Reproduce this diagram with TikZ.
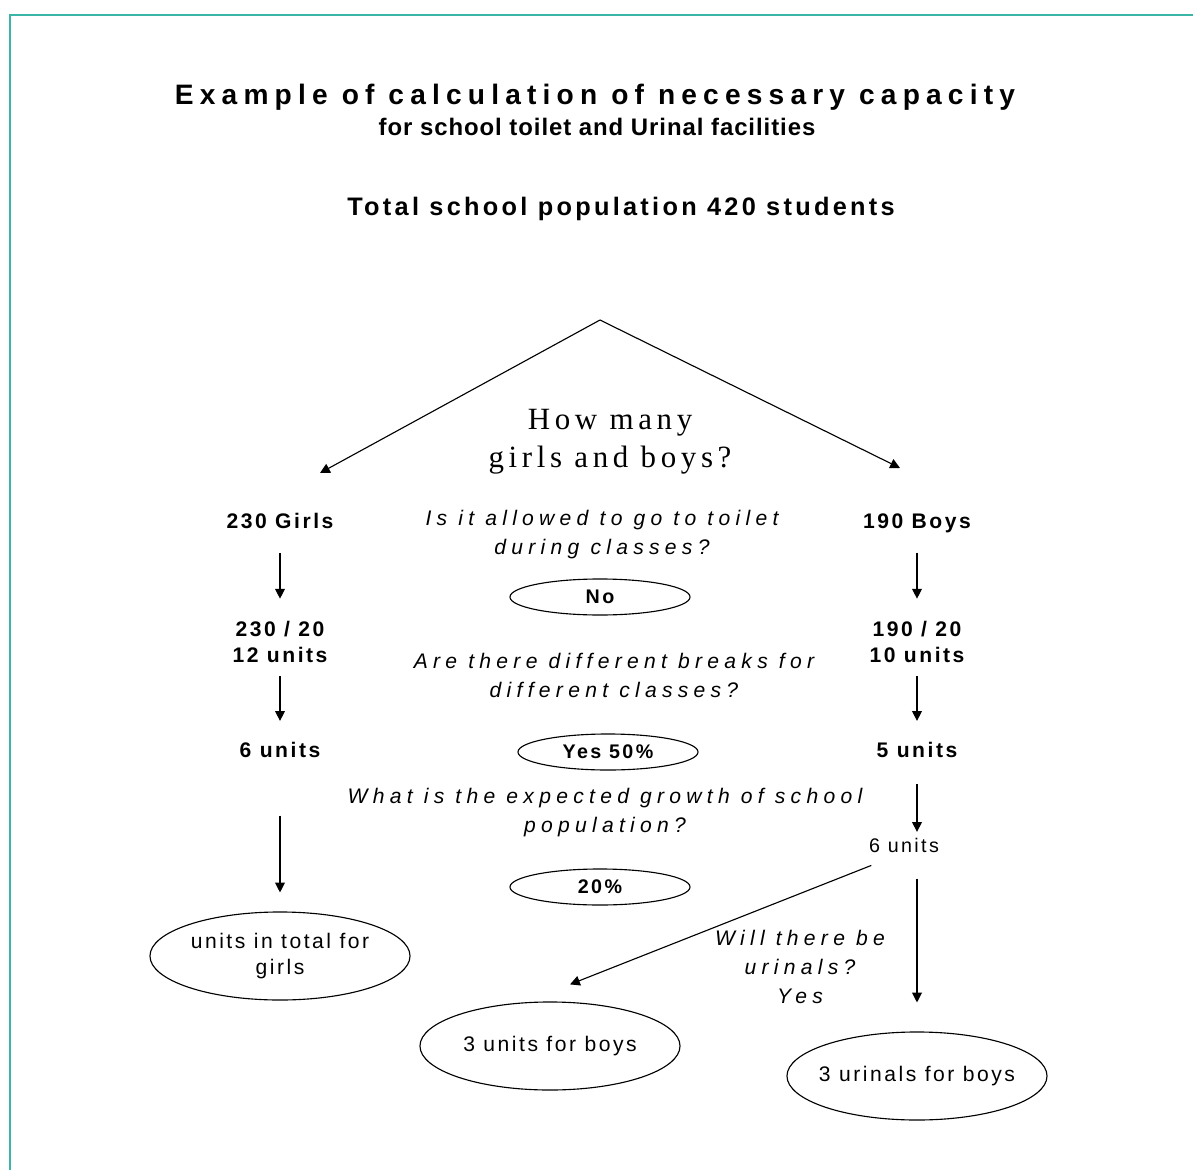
\documentclass[tikz,border=0pt]{standalone}
\usepackage{fontspec}
\setmainfont{Liberation Sans}
\newfontfamily\spaced[LetterSpace=12]{Liberation Sans}
\newfontfamily\widesp[LetterSpace=25]{Liberation Sans}
\newfontfamily\titlefont[LetterSpace=22]{Liberation Sans}
\newfontfamily\totalfont[LetterSpace=13]{Liberation Sans}
\newfontfamily\subfont[LetterSpace=4]{Liberation Sans}
\newfontfamily\serifsp[LetterSpace=15]{Liberation Serif}
\usetikzlibrary{arrows.meta,shapes.geometric}
\definecolor{frameteal}{RGB}{58,181,166}
\tikzset{
  lbl/.style={font=\spaced\bfseries\fontsize{15}{19}\selectfont, align=center, inner sep=0pt},
  plain/.style={font=\spaced\fontsize{14}{19}\selectfont, align=center, inner sep=0pt},
  ques/.style={font=\widesp\itshape\fontsize{15}{20.6}\selectfont, align=center, inner sep=0pt},
  oval/.style={draw, ellipse, line width=0.8pt, minimum width=4.5cm, minimum height=0.9cm,
    inner sep=0pt, font=\spaced\bfseries\fontsize{14}{19}\selectfont},
  bigoval/.style={draw, ellipse, line width=0.8pt, minimum width=6.5cm, minimum height=2.2cm,
    inner sep=-5pt, align=center, font=\spaced\fontsize{15}{19}\selectfont},
  arr/.style={-{Triangle[length=7pt,width=7pt]}, line width=0.8pt},
}

\begin{document}
\begin{tikzpicture}[x=0.025cm,y=-0.025cm]
  \useasboundingbox (0,0) rectangle (1193,1170);
  \draw[frameteal,line width=2pt] (10,1170) -- (10,15) -- (1193,15);

  % headings
  \node (title) at (595,97) {\titlefont\bfseries\fontsize{20}{22}\selectfont Example of calculation of necessary capacity};
  \node (sub) at (597,127) {\subfont\bfseries\fontsize{17}{19}\selectfont for school toilet and Urinal facilities};
  \node (total) at (621,209) {\totalfont\bfseries\fontsize{18}{20}\selectfont Total school population 420 students};

  % split
  \coordinate (apex) at (600,320);
  \coordinate (gtip) at (320,473);
  \coordinate (btip) at (900,468);
  \draw[arr] (apex) -- (gtip);
  \draw[arr] (apex) -- (btip);
  \node[align=center,font=\serifsp\fontsize{22}{27}\selectfont] (how) at (610,442) {How many\\girls and boys?};

  % girls column
  \node[lbl] (girls) at (280,521) {230 Girls};
  \node[lbl] (gcalc) at (280,642) {230 / 20\\12 units};
  \node[lbl] (gsix) at (280,750) {6 units};
  \node[bigoval] (gtotal) at (280,956) {units in total for\\girls};

  % boys column
  \node[lbl] (boys) at (917,523) {190 Boys};
  \node[lbl] (bcalc) at (917,642) {190 / 20\\10 units};
  \node[lbl] (bfive) at (917,750) {5 units};
  \node[plain] (bsix) at (904,845) {6 units};
  \node[bigoval] (bunits) at (550,1046) {3 units for boys};
  \node[bigoval] (burinals) at (917,1076) {3 urinals for boys};

  % questions and answers
  \node[ques] (q1) at (602,535) {Is it allowed to go to toilet\\during classes?};
  \node[oval] (no) at (600,597) {No};
  \node[ques] (q2) at (614,675) {Are there different breaks for\\different classes?};
  \node[oval] (yes) at (608,752) {Yes 50\%};
  \node[ques] (q3) at (605,813) {What is the expected growth of school\\population?};
  \node[oval] (grow) at (600,887) {20\%};
  \node[ques] (q4) at (800,967) {Will there be\\urinals?\\Yes};

  \draw[arr,shorten <=17pt,shorten >=15.6pt] (girls) -- (gcalc);
  \draw[arr,shorten <=9pt,shorten >=15pt] (gcalc) -- (gsix);
  \draw[arr,shorten <=41pt,shorten >=13.5pt] (gsix) -- (gtotal);
  \draw[arr,shorten <=14pt,shorten >=15.6pt] (boys) -- (bcalc);
  \draw[arr,shorten <=9pt,shorten >=15pt] (bcalc) -- (bfive);
  \draw[arr,shorten <=18.5pt,shorten >=4pt] (bfive.south) -- (bfive.south |- bsix.north);
  \draw[arr,shorten <=18.5pt,shorten >=20.6pt] (bfive.south |- bsix.south) -- (bfive.south |- burinals.north);
  \draw[arr,shorten <=25pt,shorten >=34.6pt] (bsix.south) -- (bunits.120);
\end{tikzpicture}
\end{document}
